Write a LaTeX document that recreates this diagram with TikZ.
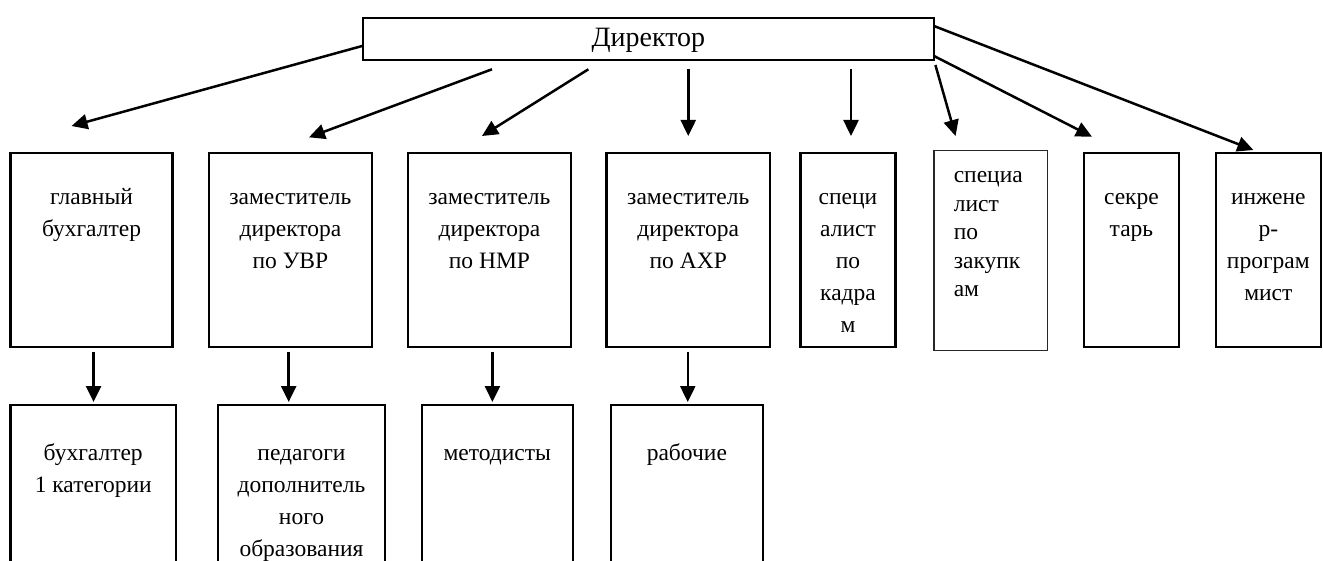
\documentclass[tikz,border=0pt]{standalone}
\usepackage{fontspec}
\setmainfont{Liberation Serif}
\usetikzlibrary{arrows.meta,calc}
\newcommand\orgtxt[4]{\parbox[c][#2][t]{#1}{\centering\rule{0pt}{#3}#4\par}}
\newcommand\orgtxtl[4]{\parbox[c][#2][t]{#1}{\raggedright\leftskip=20pt\rule{0pt}{#3}#4\par}}
\begin{document}
\begin{tikzpicture}[x=1pt,y=-1pt,
  orgbox/.style={draw, line width=2.3pt, inner sep=0pt, outer sep=0pt, anchor=north west,
    font=\fontsize{23.5}{32}\selectfont},
  thinbox/.style={orgbox, line width=1.6pt, draw=black!85, font=\fontsize{23.5}{28.5}\selectfont},
  conn/.style={line width=2.5pt, -{Triangle[length=16pt,width=15pt]}}]
\useasboundingbox (0,0) rectangle (1323,561);
\clip (0,0) rectangle (1323,561);
% director
\node[orgbox, font=\fontsize{28}{32}\selectfont] (dir) at (362.7,17.7) {\orgtxt{571.3pt}{42.3pt}{29pt}{Директор}};
% top row
\node[orgbox] (b1) at (10.5,152.7) {\orgtxt{162.1pt}{194pt}{52pt}{главный\\бухгалтер}};
\node[orgbox] (b2) at (208.8,152.7) {\orgtxt{163.2pt}{194pt}{52pt}{заместитель\\директора\\по УВР}};
\node[orgbox] (b3) at (407.8,152.7) {\orgtxt{163.2pt}{194pt}{52pt}{заместитель\\директора\\по НМР}};
\node[orgbox] (b4) at (606.5,152.7) {\orgtxt{163.5pt}{194pt}{52pt}{заместитель\\директора\\по АХР}};
\node[orgbox] (b5) at (800.6,152.7) {\orgtxt{94.8pt}{194pt}{52pt}{специ\\алист\\по\\кадра\\м}};
\node[thinbox] (b6) at (933.8,150.7) {\orgtxtl{113.5pt}{200pt}{32pt}{специа\\лист\\по\\закупк\\ам}};
\node[orgbox] (b7) at (1083.9,152.7) {\orgtxt{95.1pt}{194pt}{52pt}{секре\\тарь}};
\node[orgbox] (b8) at (1215.7,152.7) {\orgtxt{105.3pt}{194pt}{52pt}{инжене\\р-\\програм\\мист}};
% bottom row
\node[orgbox] (c1) at (10.5,405) {\orgtxt{165.5pt}{170pt}{55pt}{бухгалтер\\1 категории}};
\node[orgbox] (c2) at (218,405) {\orgtxt{167pt}{170pt}{55pt}{педагоги\\дополнитель\\ного\\образования}};
\node[orgbox] (c3) at (421.7,405) {\orgtxt{151.1pt}{170pt}{55pt}{методисты}};
\node[orgbox] (c4) at (611,405) {\orgtxt{151.7pt}{170pt}{55pt}{рабочие}};
% connectors from director
\draw[conn] ($(dir.west)+(0,7)$) -- ($(b1.north)+(-20,-26.7)$);
\draw[conn] ($(dir.south)+(-156.4,9.3)$) -- ($(b2.north)+(18.6,-15.4)$);
\draw[conn] ($(dir.south)+(-60,9.3)$) -- ($(b3.north)+(-7.4,-16.7)$);
\draw[conn] ($(dir.south -| b4.north)+(0,9)$) -- ($(b4.north)+(0,-16.7)$);
\draw[conn] ($(dir.south -| b5.north)+(3,9)$) -- ($(b5.north)+(3,-16.7)$);
\draw[conn] ($(dir.south east)+(1.4,5)$) -- ($(b6.north)+(-35,-14.7)$);
\draw[conn] ($(dir.south east)+(0,-4)$) -- ($(b7.north)+(-39.5,-16)$);
\draw[conn] ($(dir.north east)+(0,8.3)$) -- ($(b8.north)+(-15,-2.7)$);
% lower connectors
\draw[conn] ($(b1.south)+(2,5)$) -- ($(b1.south |- c1.north)+(2,-3)$);
\draw[conn] ($(b2.south)+(-1.7,5)$) -- ($(b2.south |- c2.north)+(-1.7,-3)$);
\draw[conn] ($(b3.south)+(3,5)$) -- ($(b3.south |- c3.north)+(3,-3)$);
\draw[conn] ($(b4.south)+(-0.5,5)$) -- ($(b4.south |- c4.north)+(-0.5,-3)$);
\end{tikzpicture}
\end{document}
